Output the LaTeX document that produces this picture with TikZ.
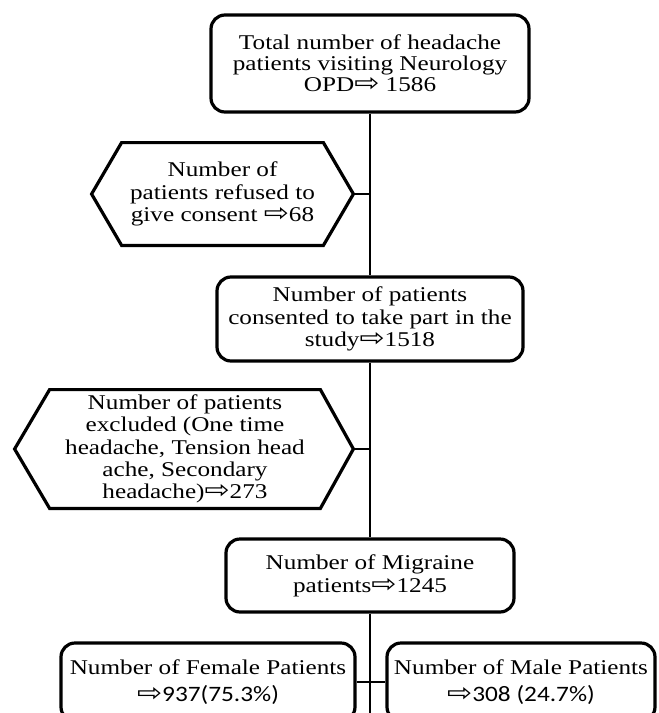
\documentclass[tikz,border=0pt]{standalone}
\usepackage{fontspec}
\setmainfont{Liberation Serif}[FakeStretch=1.2]
\newfontfamily\arrowfont{DejaVu Sans}[FakeStretch=1.2]
\newfontfamily\numfont{Carlito}[FakeStretch=1.15]
\newcommand{\ra}{{\arrowfont\fontsize{12.5}{9}\selectfont ⇨}}
\usetikzlibrary{calc}
\tikzstyle{block}=[draw,line width=1.6pt,rounded corners=7pt,align=center,inner sep=0pt,font=\fontsize{10.5}{11.2}\selectfont]
\tikzstyle{hexbody}=[align=center,inner sep=0pt,font=\fontsize{10.5}{11.2}\selectfont]
\tikzstyle{hexline}=[line width=1.6pt,line join=miter]
\tikzstyle{link}=[line width=1pt]

\begin{document}
\begin{tikzpicture}[x=0.5pt,y=-0.5pt]
  \useasboundingbox (0,0) rectangle (659,713);
  \node [block,minimum width=159pt,minimum height=48.5pt,font=\fontsize{10.5}{10.5}\selectfont] (total) at (370,63.5)
    {Total number of headache\\patients visiting Neurology\\OPD\ra\ 1586};
  \node [hexbody,minimum width=100.5pt,minimum height=51pt] (refused) at (222.5,194)
    {Number of\\patients refused to\\give consent \ra68};
  \draw [hexline] (refused.north west) -- (refused.north east)
    -- ([xshift=15pt]refused.east) coordinate (refused tip)
    -- (refused.south east) -- (refused.south west)
    -- ([xshift=-15pt]refused.west) -- cycle;
  \node [block,minimum width=153pt,minimum height=42pt] (consented) at (370,319)
    {Number of patients\\consented to take part in the\\study\ra1518};
  \node [hexbody,minimum width=135pt,minimum height=59pt] (excluded) at (185,449)
    {Number of patients\\excluded (One time\\headache, Tension head\\ache, Secondary\\headache)\ra273};
  \draw [hexline] (excluded.north west) -- (excluded.north east)
    -- ([xshift=16.5pt]excluded.east) coordinate (excluded tip)
    -- (excluded.south east) -- (excluded.south west)
    -- ([xshift=-17.5pt]excluded.west) -- cycle;
  \node [block,minimum width=144pt,minimum height=36.5pt,font=\fontsize{10.5}{11.5}\selectfont] (migraine) at (370,575.5)
    {Number of Migraine\\patients\ra1245};
  \node [block,minimum width=147pt,minimum height=39pt,font=\fontsize{10.5}{13.5}\selectfont] (female) at (208,682)
    {Number of Female Patients\\{\numfont\fontsize{11}{13.5}\selectfont\ra937(75.3\%)}};
  \node [block,minimum width=134pt,minimum height=39pt,font=\fontsize{10.5}{13.5}\selectfont] (male) at (521,682)
    {Number of Male Patients\\{\numfont\fontsize{11}{13.5}\selectfont\ra308 (24.7\%)}};
  \coordinate (bottom) at (370,720);

  \draw [link] (total) -- (consented);
  \draw [link] (refused tip) -- (refused tip -| total);
  \draw [link] (consented) -- (migraine);
  \draw [link] (excluded tip) -- (excluded tip -| consented);
  \draw [link] (migraine) -- (bottom);
  \draw [link] (female) -- (male);
\end{tikzpicture}
\end{document}
